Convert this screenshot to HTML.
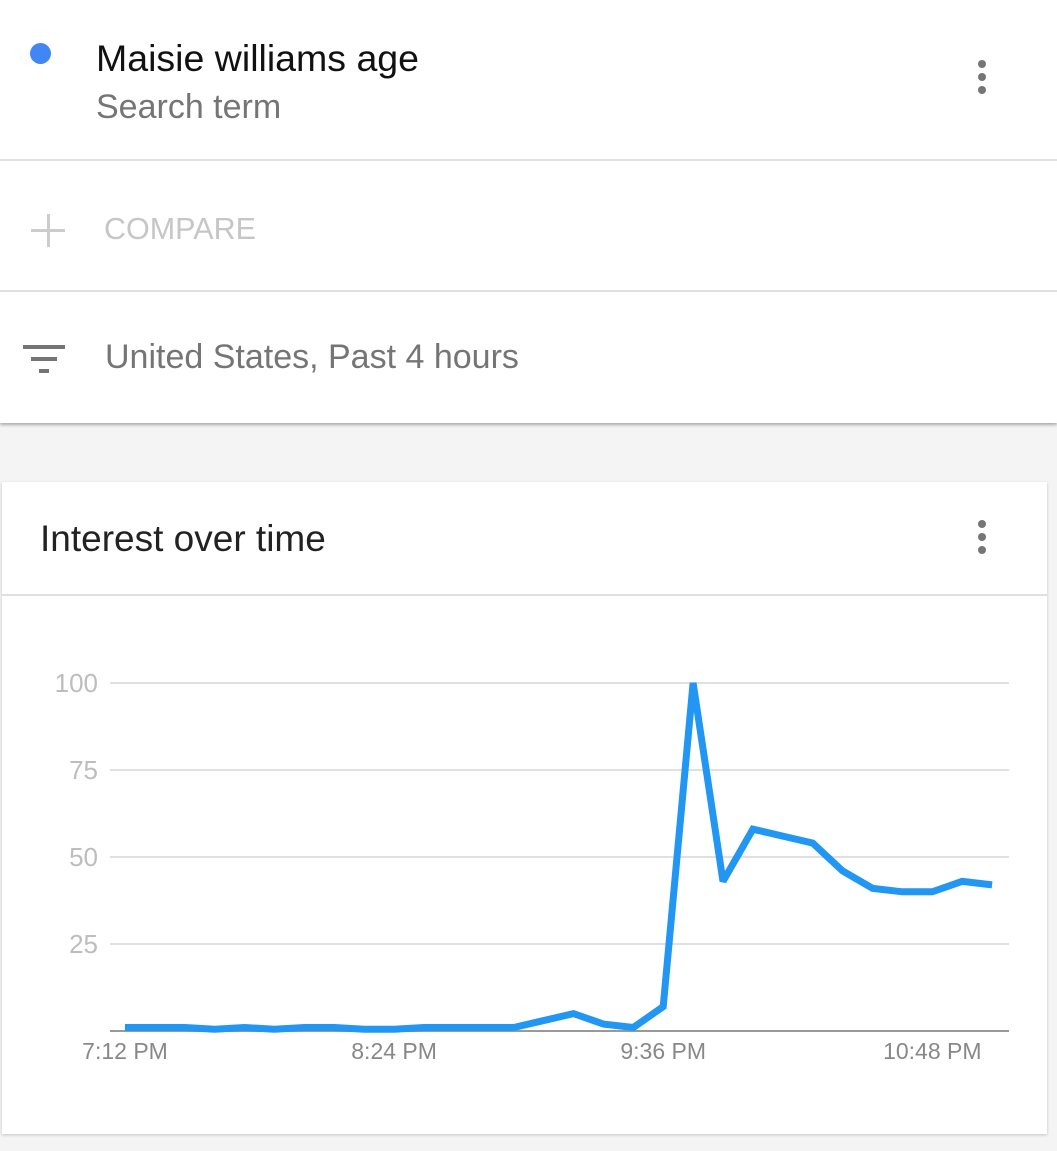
<!DOCTYPE html>
<html><head><meta charset="utf-8"><style>
body{margin:0;width:1057px;height:1151px;background:#f4f4f4;font-family:"Liberation Sans",Roboto,sans-serif;position:relative;overflow:hidden}
.top{position:absolute;left:0;top:0;width:1057px;height:423px;background:#fff;box-shadow:0 2px 3px rgba(0,0,0,.3)}
.div{position:absolute;left:0;width:1057px;height:2px;background:#e0e0e0}
.t{position:absolute;white-space:nowrap}
.dots{position:absolute;width:8px}
.dots i{display:block;width:8px;height:8px;border-radius:50%;background:#757575;margin-bottom:5px}
.card{position:absolute;left:2px;top:482px;width:1045px;height:652px;background:#fff;box-shadow:0 1px 3px rgba(0,0,0,.2)}
</style></head><body>
<div class="top">
<div style="position:absolute;left:30px;top:43px;width:21px;height:21px;border-radius:50%;background:#4285f4"></div>
<div class="t" style="left:96px;top:37px;font-size:37.5px;color:#111">Maisie williams age</div>
<div class="t" style="left:96px;top:88px;font-size:34px;color:#757575">Search term</div>
<div class="dots" style="left:978px;top:60px"><i></i><i></i><i></i></div>
<div class="div" style="top:159px"></div>
<div><div style="position:absolute;left:31px;top:229px;width:34px;height:3px;background:#ccc"></div><div style="position:absolute;left:46.5px;top:214px;width:3px;height:33px;background:#ccc"></div></div>
<div class="t" style="left:104px;top:212px;font-size:30.5px;color:#c6c6c6">COMPARE</div>
<div class="div" style="top:290px"></div>
<div><div style="position:absolute;left:23px;top:345px;width:42px;height:4px;background:#757575"></div><div style="position:absolute;left:31px;top:357px;width:26px;height:4px;background:#757575"></div><div style="position:absolute;left:39px;top:369px;width:10px;height:4px;background:#757575"></div></div>
<div class="t" style="left:105px;top:338px;font-size:34px;color:#757575">United States, Past 4 hours</div>
</div>
<div class="card">
<div class="t" style="left:38px;top:36px;font-size:37px;color:#222">Interest over time</div>
<div class="dots" style="left:976px;top:38px"><i></i><i></i><i></i></div>
<div class="div" style="top:112px;width:1045px"></div>
</div>
<svg id="chart" width="1057" height="1151" style="position:absolute;left:0;top:0"></svg>
<script>
const yTicks=[25,50,75,100];
const xLabels=["7:12 PM","8:24 PM","9:36 PM","10:48 PM"];
const xLabelIdx=[0,9,18,27];
const values=[1,1,1,0.5,1,0.5,1,1,0.5,0.5,1,1,1,1,3,5,2,1,7,100,43,58,56,54,46,41,40,40,43,42];
const NS="http://www.w3.org/2000/svg";
const svg=document.getElementById('chart');
const x=i=>125+i*29.9;
const y=v=>1031-v*3.48;
function mk(tag,attrs,txt){const e=document.createElementNS(NS,tag);for(const k in attrs)e.setAttribute(k,attrs[k]);if(txt!==undefined)e.textContent=txt;svg.appendChild(e);return e;}
yTicks.forEach(v=>{
 const g=mk('line',{x1:110,x2:1009,y1:y(v),y2:y(v),stroke:'#e0e0e0','stroke-width':2});
 
 
 const t=mk('text',{x:98,y:y(v)+9,'text-anchor':'end','font-size':26,fill:'#bdbdbd','font-family':'Liberation Sans, sans-serif'},v);
 
 
});
const ax=mk('line',{x1:110,x2:1009,y1:y(0),y2:y(0),stroke:'#999','stroke-width':2});


xLabels.forEach((l,k)=>{
 const t=mk('text',{x:x(xLabelIdx[k]),y:1059,'text-anchor':'middle','font-size':23,fill:'#888','font-family':'Liberation Sans, sans-serif'},l);
 
 
});
const p=mk('polyline',{points:values.map((v,i)=>x(i)+','+y(v)).join(' '),fill:'none',stroke:'#2196f3','stroke-width':7,'stroke-linejoin':'miter','stroke-miterlimit':2});


</script>
</body></html>
